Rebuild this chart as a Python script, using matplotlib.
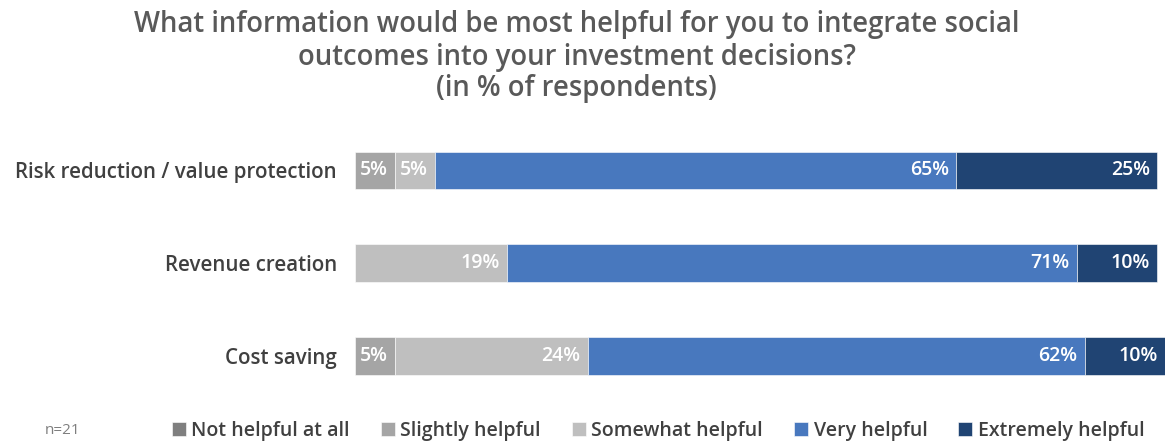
import matplotlib.pyplot as plt
import numpy as np

plt.rcParams['font.family'] = ['Open Sans', 'DejaVu Sans']

categories = ['Risk reduction / value protection', 'Revenue creation', 'Cost saving']
levels = ['Not helpful at all', 'Slightly helpful', 'Somewhat helpful',
          'Very helpful', 'Extremely helpful']
not_helpful = [0, 0, 0]
slightly = [5, 0, 5]
somewhat = [5, 19, 24]
very = [65, 71, 62]
extremely = [25, 10, 10]
colors = ['#7f7f7f', '#a5a5a5', '#bfbfbf', '#4878be', '#204473']

title_lines = ['What information would be most helpful for you to integrate social',
               'outcomes into your investment decisions?',
               '(in % of respondents)']

series = [not_helpful, slightly, somewhat, very, extremely]

fig = plt.figure(figsize=(11.65, 4.44), dpi=100)
ax = fig.add_axes([0.3047, 0.0935, 0.6953, 0.628])

y = np.arange(len(categories))
left = np.zeros(len(categories))
for vals, col, name in zip(series, colors, levels):
    vals = np.array(vals, dtype=float)
    ax.barh(y, vals, left=left, height=0.4, color=col, label=name,
            edgecolor='white', linewidth=0.4)
    for yi, (l, v) in enumerate(zip(left, vals)):
        if v > 0:
            ax.text(l + v - 0.9, yi, f'{int(v)}%', ha='right', va='center',
                    color='white', fontsize=14, fontweight='semibold')
    left += vals

ax.set_xlim(0, 101)
ax.set_ylim(2.5, -0.5)
ax.set_yticks(y)
ax.set_yticklabels(categories, fontsize=14.8, color='#404040', fontweight='semibold')
ax.tick_params(axis='y', length=0, pad=13)
ax.set_xticks([])
for s in ax.spines.values():
    s.set_visible(False)

# three title lines placed one by one for even spacing
for ty, line in zip([0.9437, 0.8716, 0.8018], title_lines):
    fig.text(0.495, ty, line, ha='center', va='center', fontsize=19.8,
             fontweight='semibold', color='#595959')

fig.text(0.038, 0.03, 'n=21', fontsize=11, color='#7f7f7f', va='center')

handles, labels = ax.get_legend_handles_labels()
leg = fig.legend(handles, labels, loc='center', bbox_to_anchor=(0.565, 0.03), ncol=5,
                 frameon=False, fontsize=14, handlelength=0.7, handleheight=0.7,
                 handletextpad=0.3, columnspacing=1.6, borderaxespad=0)
for t in leg.get_texts():
    t.set_color('#404040')
    t.set_fontweight('semibold')

fig.savefig('out.png', dpi=100)
